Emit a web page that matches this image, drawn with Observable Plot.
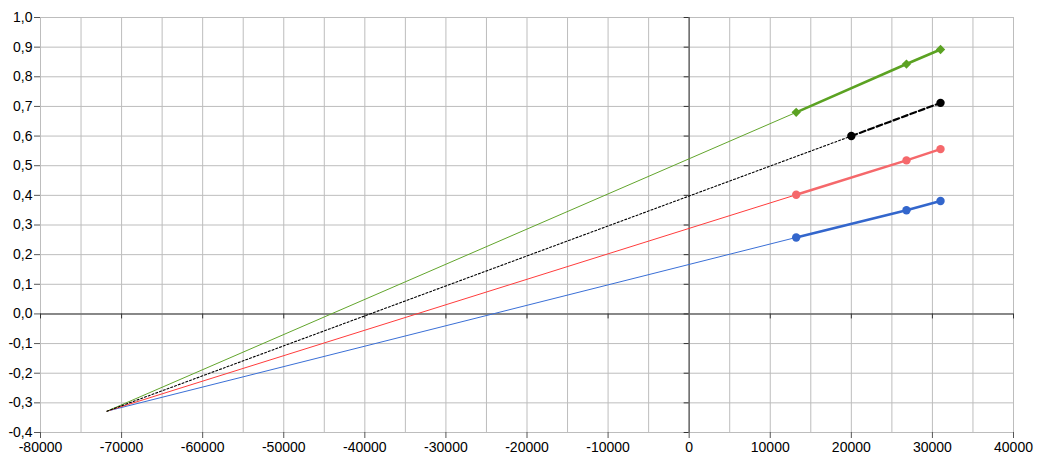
<!DOCTYPE html>
<html>
<head>
<meta charset="utf-8">
<script src="https://cdn.jsdelivr.net/npm/d3@7"></script>
<script src="https://cdn.jsdelivr.net/npm/@observablehq/plot@0.6"></script>
<style>
  html, body { margin: 0; padding: 0; background: #fff; }
  svg { display: block; }
</style>
</head>
<body>
<div id="chart"></div>
<script>
// ---- data ----
const xTicks = [-80000, -70000, -60000, -50000, -40000, -30000, -20000, -10000, 0, 10000, 20000, 30000, 40000];
const yTicks = [-0.4, -0.3, -0.2, -0.1, 0.0, 0.1, 0.2, 0.3, 0.4, 0.5, 0.6, 0.7, 0.8, 0.9, 1.0];
const xGrid = [-80000, -75000, -70000, -65000, -60000, -55000, -50000, -45000, -40000, -35000, -30000, -25000, -20000, -15000, -10000, -5000, 0, 5000, 10000, 15000, 20000, 25000, 30000, 35000, 40000];

const seriesX = [13200, 26800, 31000];
const blueY = [0.258, 0.350, 0.381];
const redY = [0.402, 0.518, 0.556];
const greenY = [0.680, 0.843, 0.892];
const blackX = [20000, 31000];
const blackY = [0.600, 0.712];
const origin = { x: -71800, y: -0.328 };

// ---- layout ----
const W = 1044, H = 466;
const mT = 17, mB = 34, mL = 40, mR = 31;
const yDom = [-0.4, 1.0];
const tickLen = 5 * (yDom[1] - yDom[0]) / (H - mT - mB);   // 5px in y units
const xTickLen = 5 * 120000 / (W - mL - mR);              // 5px in x units

const pts = (xs, ys) => xs.map((x, i) => ({ x, y: ys[i] }));
const blue = pts(seriesX, blueY);
const red = pts(seriesX, redY);
const green = pts(seriesX, greenY);
const black = pts(blackX, blackY);
const ext = (s) => [origin, s[0]];

const fmtY = d => (Math.round(d * 10) / 10).toFixed(1).replace(".", ",").replace("-0,0", "0,0");

const C = {
  green: "#5ba222", greenThin: "#62a52c",
  red: "#f5686b", redThin: "#ff3c3c",
  blue: "#3366cc", blueThin: "#3a6fd6",
  black: "#000000"
};

const chart = Plot.plot({
  width: W, height: H,
  marginTop: mT, marginBottom: mB, marginLeft: mL, marginRight: mR,
  style: { fontFamily: "'Liberation Sans', Arial, sans-serif", fontSize: "14px", color: "#000", background: "#fff" },
  x: { domain: [-80000, 40000] },
  y: { domain: yDom },
  marks: [
    // grid
    Plot.ruleX(xGrid, { x: d => d, stroke: "#bdbdbd", strokeWidth: 1, strokeOpacity: 1 }),
    Plot.ruleY(yTicks, { y: d => d, stroke: "#bdbdbd", strokeWidth: 1, strokeOpacity: 1 }),
    // axes through zero
    Plot.ruleX([0], { x: d => d, stroke: "#6b6b6b", strokeWidth: 1.5 }),
    Plot.ruleY([0], { y: d => d, stroke: "#6b6b6b", strokeWidth: 1.5 }),
    // tick marks on zero axes
    Plot.ruleY(yTicks, { y: d => d, x1: -xTickLen, x2: 0, stroke: "#333", strokeWidth: 1 }),
    Plot.ruleX(xTicks.filter(d => d !== 0), { x: d => d, y1: 0, y2: -tickLen, stroke: "#333", strokeWidth: 1 }),
    // outer axes
    Plot.axisY(yTicks, { anchor: "left", label: null, tickSize: 6, tickPadding: 2, tickFormat: fmtY, stroke: "#555", fontSize: 14 }),
    Plot.axisX(xTicks, { anchor: "bottom", label: null, tickSize: 6, tickPadding: 4, tickFormat: d => String(d), stroke: "#555", fontSize: 14 }),
    // thin extensions
    Plot.line(ext(blue), { x: "x", y: "y", stroke: C.blueThin, strokeWidth: 1 }),
    Plot.line(ext(red), { x: "x", y: "y", stroke: C.redThin, strokeWidth: 1 }),
    Plot.line(ext(green), { x: "x", y: "y", stroke: C.greenThin, strokeWidth: 1 }),
    Plot.line(ext(black), { x: "x", y: "y", stroke: C.black, strokeWidth: 1.1, strokeDasharray: "2,2" }),
    // series
    Plot.line(blue, { x: "x", y: "y", stroke: C.blue, strokeWidth: 2.6 }),
    Plot.line(red, { x: "x", y: "y", stroke: C.red, strokeWidth: 2.6 }),
    Plot.line(green, { x: "x", y: "y", stroke: C.green, strokeWidth: 2.6 }),
    Plot.line(black, { x: "x", y: "y", stroke: C.black, strokeWidth: 2.2, strokeDasharray: "6,3" }),
    Plot.dot(blue, { x: "x", y: "y", fill: C.blue, r: 4.2 }),
    Plot.dot(red, { x: "x", y: "y", fill: C.red, r: 4.2 }),
    Plot.dot(black, { x: "x", y: "y", fill: C.black, r: 4.2 }),
    Plot.dot(green, { x: "x", y: "y", fill: C.green, symbol: "diamond2", r: 4.2 })
  ]
});
document.getElementById("chart").appendChild(chart);
</script>
</body>
</html>
